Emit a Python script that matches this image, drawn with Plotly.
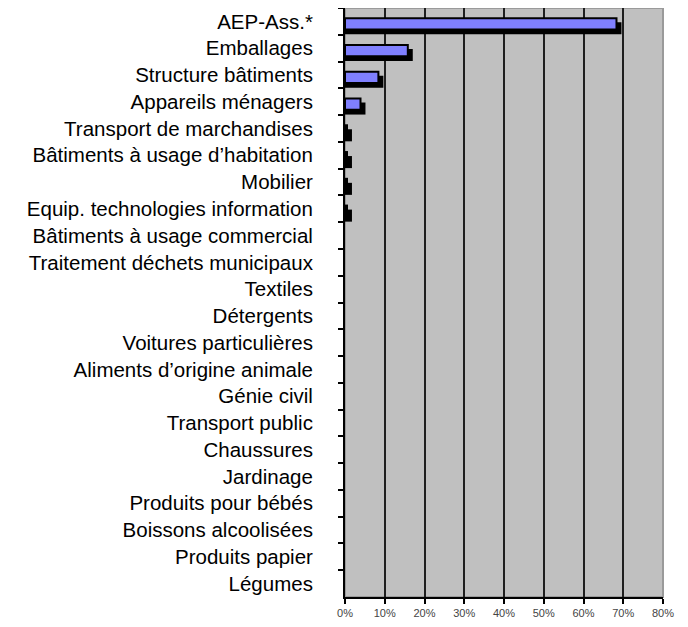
import plotly.graph_objects as go

categories = [
    "AEP-Ass.*",
    "Emballages",
    "Structure bâtiments",
    "Appareils ménagers",
    "Transport de marchandises",
    "Bâtiments à usage d’habitation",
    "Mobilier",
    "Equip. technologies information",
    "Bâtiments à usage commercial",
    "Traitement déchets municipaux",
    "Textiles",
    "Détergents",
    "Voitures particulières",
    "Aliments d’origine animale",
    "Génie civil",
    "Transport public",
    "Chaussures",
    "Jardinage",
    "Produits pour bébés",
    "Boissons alcoolisées",
    "Produits papier",
    "Légumes",
]
values = [68.3, 15.8, 8.4, 3.9, 0.5, 0.5, 0.5, 0.5,
          0, 0, 0, 0, 0, 0, 0, 0, 0, 0, 0, 0, 0, 0]
x_ticks = [0, 10, 20, 30, 40, 50, 60, 70, 80]
x_tick_labels = ["0%", "10%", "20%", "30%", "40%", "50%", "60%", "70%", "80%"]

SHADOW_SHIFT = 1.25  # drop-shadow offset (percent units, ~5px)
shadow = [v + SHADOW_SHIFT if v > 0 else 0 for v in values]
outline = [2 if v > 0 else 0 for v in values]

fig = go.Figure()
fig.add_trace(go.Bar(
    y=categories, x=shadow, orientation="h",
    marker=dict(color="black", line=dict(width=0)),
    width=0.45, offset=0.03, hoverinfo="skip", showlegend=False,
))
fig.add_trace(go.Bar(
    y=categories, x=values, orientation="h",
    marker=dict(color="#8080ff", line=dict(color="black", width=outline)),
    width=0.42, offset=-0.12, showlegend=False,
))

fig.update_layout(
    width=680, height=619,
    margin=dict(l=337, r=25, t=0, b=30, autoexpand=False),
    paper_bgcolor="white",
    plot_bgcolor="#c0c0c0",
    barmode="overlay",
    font=dict(family="Liberation Sans, Arial, sans-serif", color="black"),
    shapes=[dict(type="rect", xref="paper", yref="paper", x0=0, x1=1, y0=0, y1=1,
                 line=dict(color="#9a9a9a", width=2), layer="below")],
)
fig.update_xaxes(
    range=[0, 80], tickvals=x_ticks, ticktext=x_tick_labels,
    showgrid=True, gridcolor="#1e1e1e", gridwidth=2,
    zeroline=False, automargin=False,
    showline=True, linecolor="black", linewidth=2,
    ticks="outside", ticklen=5, tickwidth=2, tickcolor="black",
    tickfont=dict(size=11, color="#444444"),
    fixedrange=True,
)
fig.update_yaxes(
    autorange="reversed", type="category",
    showgrid=False, zeroline=False, automargin=False,
    showline=True, linecolor="black", linewidth=2,
    ticks="outside", tickson="boundaries", ticklen=5, tickwidth=2, tickcolor="black",
    tickfont=dict(size=20.5, color="black"),
    ticklabelstandoff=26,
    fixedrange=True,
)

fig.write_html("out.html")
